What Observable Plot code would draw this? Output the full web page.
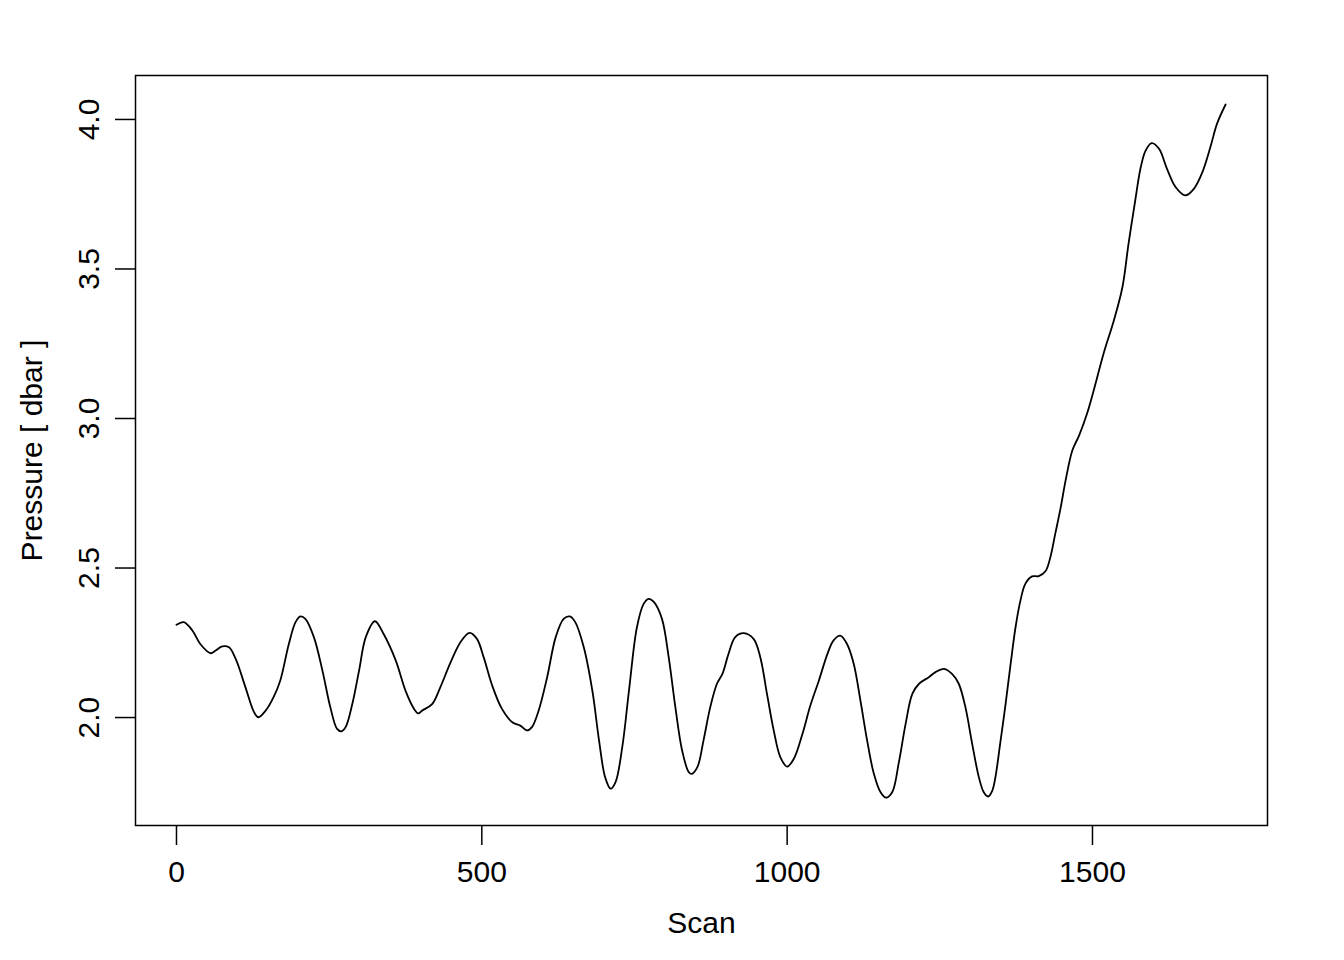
<!DOCTYPE html>
<html>
<head>
<meta charset="utf-8">
<script src="https://cdn.jsdelivr.net/npm/d3@7"></script>
<script src="https://cdn.jsdelivr.net/npm/@observablehq/plot@0.6"></script>
<style>
  html, body { margin: 0; padding: 0; background: #fff; }
  #chart { width: 1344px; height: 960px; }
</style>
</head>
<body>
<div id="chart"></div>
<script>
// Scan index and pressure [dbar]
const scan = [
  0, 12, 26, 39, 56, 64, 75, 86, 97, 113, 127, 134, 146, 159, 170, 184, 195, 203, 211, 225,
  239, 252, 263, 270, 277, 288, 299, 310, 325, 339, 359, 375, 389, 396, 402, 419, 432, 449, 465, 480,
  492, 503, 517, 533, 550, 563, 574, 582, 593, 607, 621, 634, 644, 653, 667, 681, 692, 702, 711, 719,
  730, 741, 754, 765, 773, 782, 795, 806, 817, 828, 839, 844, 853, 863, 874, 885, 894, 904, 915, 929,
  945, 956, 967, 978, 989, 1000, 1011, 1025, 1038, 1052, 1066, 1076, 1087, 1098, 1109, 1120, 1131, 1142, 1153, 1162,
  1172, 1183, 1194, 1205, 1216, 1232, 1243, 1257, 1270, 1281, 1292, 1303, 1314, 1322, 1329, 1336, 1341, 1349, 1358, 1366,
  1374, 1382, 1390, 1401, 1412, 1423, 1431, 1439, 1448, 1456, 1467, 1478, 1491, 1502, 1518, 1535, 1549, 1559, 1570, 1579,
  1587, 1597, 1609, 1622, 1636, 1652, 1666, 1680, 1693, 1704, 1718
];
const pressure = [
  2.310, 2.319, 2.291, 2.246, 2.215, 2.224, 2.238, 2.235, 2.196, 2.101, 2.018, 2.001, 2.023, 2.068, 2.124, 2.246, 2.319, 2.338, 2.330, 2.269,
  2.157, 2.034, 1.962, 1.954, 1.968, 2.046, 2.157, 2.269, 2.322, 2.280, 2.191, 2.090, 2.029, 2.014, 2.023, 2.046, 2.101, 2.185, 2.252, 2.283,
  2.263, 2.202, 2.107, 2.029, 1.984, 1.973, 1.957, 1.968, 2.023, 2.135, 2.269, 2.330, 2.338, 2.319, 2.235, 2.090, 1.923, 1.800, 1.762, 1.784,
  1.901, 2.090, 2.302, 2.380, 2.397, 2.386, 2.330, 2.202, 2.034, 1.890, 1.817, 1.812, 1.834, 1.923, 2.034, 2.113, 2.146, 2.213, 2.269, 2.282,
  2.263, 2.202, 2.079, 1.957, 1.867, 1.836, 1.862, 1.945, 2.040, 2.124, 2.213, 2.258, 2.274, 2.246, 2.180, 2.057, 1.923, 1.812, 1.750, 1.732,
  1.750, 1.851, 1.979, 2.079, 2.113, 2.135, 2.152, 2.163, 2.146, 2.113, 2.034, 1.912, 1.800, 1.750, 1.736, 1.756, 1.800, 1.915, 2.050, 2.180,
  2.302, 2.391, 2.447, 2.472, 2.473, 2.489, 2.536, 2.614, 2.703, 2.793, 2.893, 2.943, 3.016, 3.094, 3.216, 3.328, 3.439, 3.584, 3.729, 3.840,
  3.896, 3.921, 3.902, 3.835, 3.774, 3.746, 3.768, 3.824, 3.907, 3.986, 4.050
];
const xTicks = [0, 500, 1000, 1500];
const yTicks = [2.0, 2.5, 3.0, 3.5, 4.0];
const xLabel = "Scan";
const yLabel = "Pressure [ dbar ]";

const data = scan.map((s, i) => ({scan: s, pressure: pressure[i]}));

const chart = Plot.plot({
  width: 1344,
  height: 960,
  marginLeft: 135,
  marginRight: 77,
  marginTop: 75,
  marginBottom: 135,
  style: {fontFamily: "'Liberation Sans', Arial, Helvetica, sans-serif", fontSize: "30px", color: "#000", background: "#fff"},
  x: {domain: [-67.1, 1786.6]},
  y: {domain: [1.639, 4.147]},
  marks: [
    Plot.frame({stroke: "#000", strokeWidth: 1.5}),
    Plot.axisX({
      ticks: xTicks, tickSize: 20, tickPadding: 15, tickFormat: d => String(d),
      fontSize: 30, strokeWidth: 1.5,
      label: xLabel, labelAnchor: "center", labelArrow: "none", labelOffset: 107
    }),
    // y tick lines
    Plot.axisY({
      ticks: yTicks, tickSize: 20, tickFormat: () => "", strokeWidth: 1.5, label: null
    }),
    // y tick labels (rotated, as in R) and axis title
    Plot.axisY({
      ticks: yTicks, tickSize: 0, tickPadding: 37, tickFormat: d => d.toFixed(1),
      fontSize: 30, rotate: -90, textAnchor: "middle", lineAnchor: "bottom",
      label: yLabel, labelAnchor: "center", labelArrow: "none", labelOffset: 115
    }),
    Plot.line(data, {x: "scan", y: "pressure", stroke: "#000", strokeWidth: 1.8, curve: "catmull-rom"})
  ]
});
document.getElementById("chart").appendChild(chart);
</script>
</body>
</html>
